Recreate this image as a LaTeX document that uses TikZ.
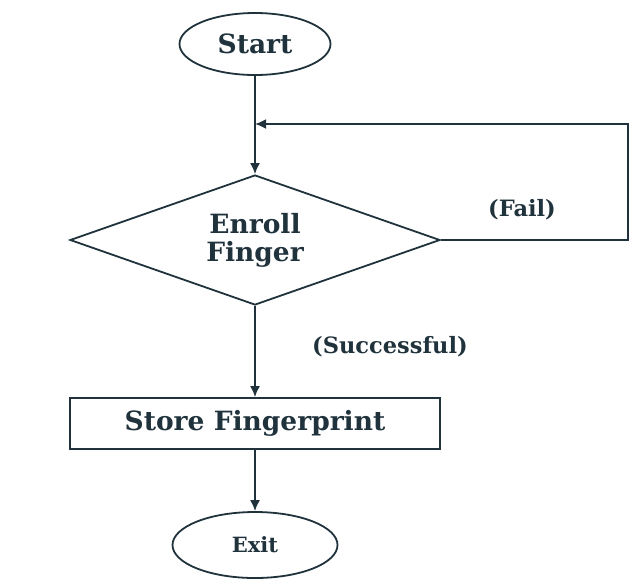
\documentclass[tikz,border=0pt]{standalone}
\usepackage{fontspec}
\setmainfont{DejaVu Serif}
\usepackage{tikz}
\usetikzlibrary{shapes.geometric,arrows.meta}
\definecolor{ink}{RGB}{32,50,60}

\begin{document}
\begin{tikzpicture}[x=1pt, y=-1pt, color=ink, line width=1.8pt, >={Latex[length=11pt,width=10pt]},
    flowtext/.style={font=\bfseries\fontsize{26.5}{28}\selectfont, align=center, inner sep=0pt},
    startstop/.style={flowtext, ellipse, draw},
    decision/.style={flowtext, diamond, aspect=2.85, draw},
    process/.style={flowtext, rectangle, draw},
    note/.style={font=\bfseries\fontsize{22.5}{26}\selectfont, inner sep=0pt}]
    \useasboundingbox (0,0) rectangle (636,587);

    \node[startstop, minimum width=151pt, minimum height=62pt] (start) at (255,44) {Start};
    \node[decision, minimum width=370pt, minimum height=130pt] (enroll) at (255,240) {Enroll\\Finger};
    \node[process, minimum width=370pt, minimum height=51pt] (store) at (255,423.5) {Store Fingerprint};
    \node[startstop, minimum width=165pt, minimum height=66pt, font=\bfseries\fontsize{21}{24}\selectfont] (exit) at (255,545) {Exit};
    \coordinate (merge) at (255,124);

    \draw[->] (start.south) -- (enroll.north);
    \draw[->] (enroll.east) -- ++(187,0) |- (merge);
    \draw[->] (enroll.south) -- (store.north);
    \draw[->] (store.south) -- (exit.north);

    \node[note] (fail) at (522,210) {(Fail)};
    \node[note] (success) at (390,347) {(Successful)};
\end{tikzpicture}
\end{document}
